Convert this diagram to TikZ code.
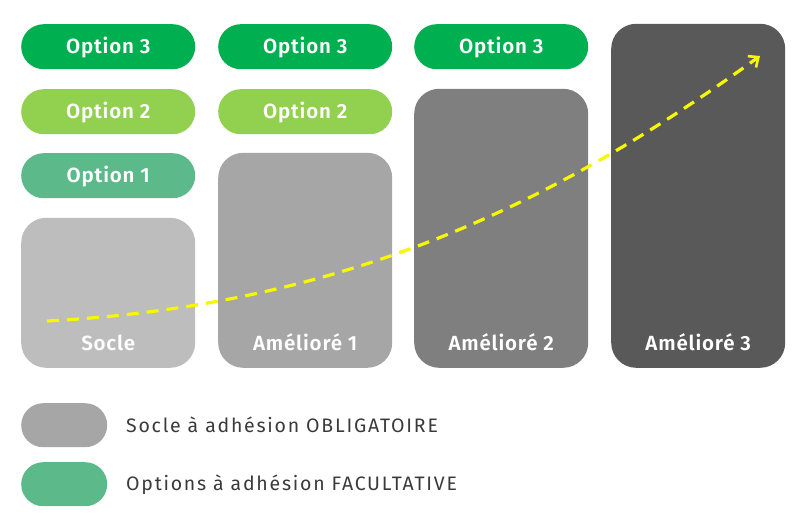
\documentclass[tikz,border=0pt]{standalone}
\usepackage{fontspec}
\setmainfont{Fira Sans}
\newfontfamily\boxfont[LetterSpace=4]{Fira Sans SemiBold}
\newfontfamily\legfont[LetterSpace=9]{Fira Sans}
\usetikzlibrary{arrows.meta}
\definecolor{opt3}{HTML}{00B050}
\definecolor{opt2}{HTML}{92D050}
\definecolor{opt1}{HTML}{5BB98A}
\definecolor{g0}{HTML}{BDBDBD}
\definecolor{g1}{HTML}{A6A6A6}
\definecolor{g2}{HTML}{7F7F7F}
\definecolor{g3}{HTML}{595959}
\definecolor{legtext}{HTML}{3A3A3A}
\definecolor{arrowy}{HTML}{F7F700}
\begin{document}
\begin{tikzpicture}[x=1pt,y=-1pt,
  pill/.style={rectangle, rounded corners=22.5pt, minimum width=174pt, minimum height=45pt,
     inner sep=0pt, anchor=north west, text=white, font=\boxfont\fontsize{20.5}{24}\selectfont,
     text height=13pt, text depth=0pt},
  bigbox/.style={rectangle, rounded corners=25pt, minimum width=174pt, inner sep=0pt,
     anchor=south west},
  boxlbl/.style={text=white, font=\boxfont\fontsize{20.5}{24}\selectfont, anchor=base},
  legpill/.style={rectangle, rounded corners=22pt, minimum width=86pt, minimum height=44pt,
     inner sep=0pt, anchor=north west},
  legtxt/.style={text=legtext, font=\legfont\fontsize{19.5}{23}\selectfont, anchor=west, inner sep=0pt},
  growth/.style={draw=arrowy, line width=3.2pt, dash pattern=on 12pt off 8pt,
     -{Straight Barb[length=8pt,width=14pt,line width=2.6pt]}}
]
\useasboundingbox (0,0) rectangle (812,532);
% big boxes
\node[bigbox, fill=g0, minimum height=150pt,
  label={[boxlbl, yshift=18pt]south:Socle}] (socle) at (21,368) {};
\node[bigbox, fill=g1, minimum height=215pt,
  label={[boxlbl, yshift=18pt]south:Amélioré 1}] (am1) at (218,368) {};
\node[bigbox, fill=g2, minimum height=279pt,
  label={[boxlbl, yshift=18pt]south:Amélioré 2}] (am2) at (414,368) {};
\node[bigbox, fill=g3, minimum height=344pt,
  label={[boxlbl, yshift=18pt]south:Amélioré 3}] (am3) at (611,368) {};
% option pills
\node[pill, fill=opt3] (c1o3) at (21,24) {Option 3};
\node[pill, fill=opt2] (c1o2) at (21,89) {Option 2};
\node[pill, fill=opt1] (c1o1) at (21,153) {Option 1};
\node[pill, fill=opt3] (c2o3) at (218,24) {Option 3};
\node[pill, fill=opt2] (c2o2) at (218,89) {Option 2};
\node[pill, fill=opt3] (c3o3) at (414,24) {Option 3};
% growth arrow
\coordinate (gstart) at (47,321);
\coordinate (gend) at (760,56);
\draw[growth] (gstart) .. controls (350,305) and (560,200) .. (gend);
% legend
\node[legpill, fill=g1] (legA) at (21,403) {};
\node[legpill, fill=opt1] (legB) at (21,462) {};
\node[legtxt] (legAt) at (126,425) {Socle à adhésion OBLIGATOIRE};
\node[legtxt] (legBt) at (126,485) {Options à adhésion FACULTATIVE};
\end{tikzpicture}
\end{document}
